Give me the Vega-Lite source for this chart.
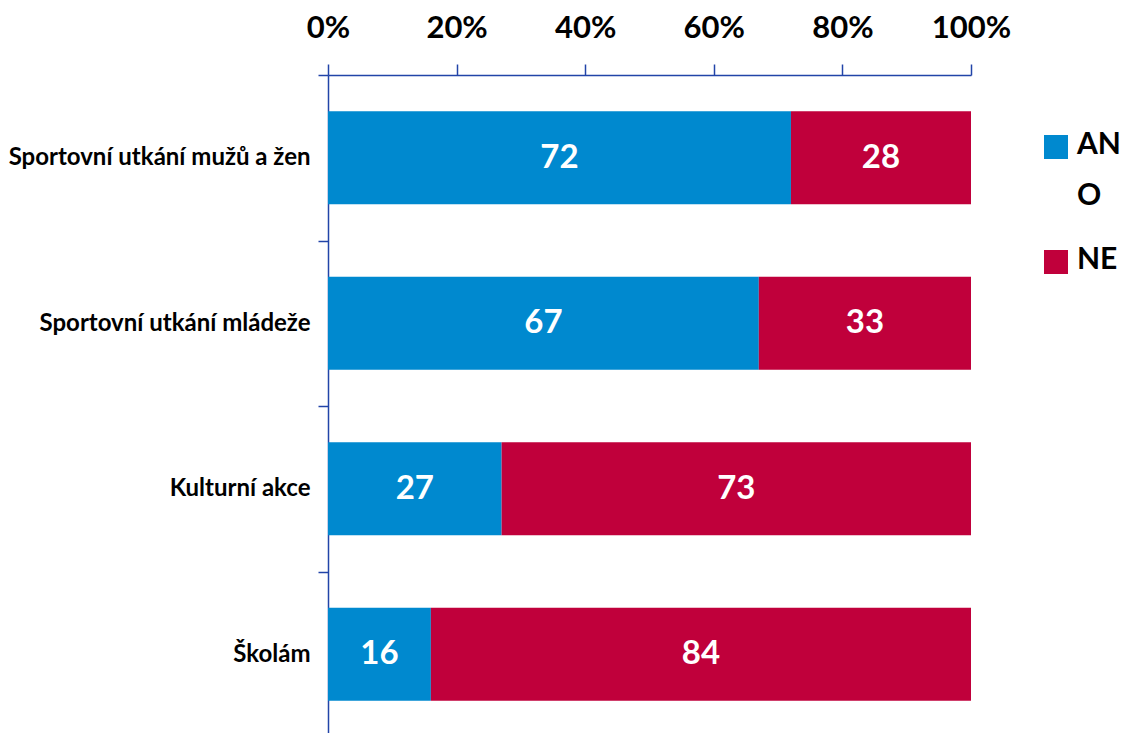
{
  "$schema": "https://vega.github.io/schema/vega-lite/v6.json",
  "autosize": "none",
  "width": 643,
  "height": 662,
  "padding": {"left": 328, "top": 75, "right": 159, "bottom": 0},
  "background": "white",
  "config": {"view": {"stroke": null}, "font": "Lato"},
  "data": {"values": [
    {"kategorie": "Sportovní utkání mužů a žen", "odpoved": "ANO", "hodnota": 72, "poradi": 1},
    {"kategorie": "Sportovní utkání mužů a žen", "odpoved": "NE", "hodnota": 28, "poradi": 2},
    {"kategorie": "Sportovní utkání mládeže", "odpoved": "ANO", "hodnota": 67, "poradi": 1},
    {"kategorie": "Sportovní utkání mládeže", "odpoved": "NE", "hodnota": 33, "poradi": 2},
    {"kategorie": "Kulturní akce", "odpoved": "ANO", "hodnota": 27, "poradi": 1},
    {"kategorie": "Kulturní akce", "odpoved": "NE", "hodnota": 73, "poradi": 2},
    {"kategorie": "Školám", "odpoved": "ANO", "hodnota": 16, "poradi": 1},
    {"kategorie": "Školám", "odpoved": "NE", "hodnota": 84, "poradi": 2}
  ]},
  "transform": [
    {"stack": "hodnota", "groupby": ["kategorie"], "sort": [{"field": "poradi"}], "as": ["x0", "x1"], "offset": "normalize"},
    {"calculate": "(datum.x0 + datum.x1) / 2", "as": "xmid"}
  ],
  "encoding": {
    "y": {
      "field": "kategorie", "type": "nominal",
      "sort": ["Sportovní utkání mužů a žen", "Sportovní utkání mládeže", "Kulturní akce", "Školám"],
      "scale": {"paddingInner": 0, "paddingOuter": 0},
      "axis": {
        "title": null, "domainColor": "#2244A8", "domainWidth": 1.5, "tickColor": "#2244A8", "tickWidth": 1.5,
        "tickSize": 10, "tickBand": "extent", "labelFont": "Lato", "labelFontSize": 24, "labelFontWeight": "bold",
        "labelColor": "black", "labelPadding": 8, "labelLimit": 400
      }
    }
  },
  "layer": [
    {
      "mark": {"type": "bar", "height": {"band": 0.563}},
      "encoding": {
        "x": {
          "field": "x0", "type": "quantitative",
          "scale": {"domain": [0, 1]},
          "axis": {
            "orient": "top", "title": null, "format": ".0%", "values": [0, 0.2, 0.4, 0.6, 0.8, 1],
            "grid": false, "domainColor": "#2244A8", "domainWidth": 1.5, "tickColor": "#2244A8", "tickWidth": 1.5,
            "tickSize": 11, "labelFont": "Lato", "labelFontSize": 31, "labelFontWeight": "bold", "labelColor": "black",
            "labelPadding": 20, "labelFlush": false
          }
        },
        "x2": {"field": "x1"},
        "color": {
          "field": "odpoved", "type": "nominal",
          "scale": {"domain": ["ANO", "NE"], "range": ["#0089CF", "#C0003B"]},
          "legend": {
            "title": null, "orient": "none", "legendX": 713, "legendY": 57,
            "symbolType": "square", "symbolSize": 576, "symbolStrokeWidth": 0, "symbolOpacity": 1,
            "labelFont": "Lato", "labelFontSize": 30, "labelFontWeight": "bold", "labelColor": "black",
            "labelExpr": "datum.label == 'ANO' ? ['AN', 'O'] : datum.label",
            "labelBaseline": "top", "labelOffset": 6, "rowPadding": 34,
            "encode": {"labels": {"update": {"lineHeight": {"value": 51}, "dy": {"value": -17}}}}
          }
        }
      }
    },
    {
      "mark": {"type": "text", "color": "white", "font": "Lato", "fontSize": 33, "fontWeight": "bold", "baseline": "middle"},
      "encoding": {
        "x": {"field": "xmid", "type": "quantitative"},
        "text": {"field": "hodnota", "type": "quantitative"}
      }
    }
  ]
}
